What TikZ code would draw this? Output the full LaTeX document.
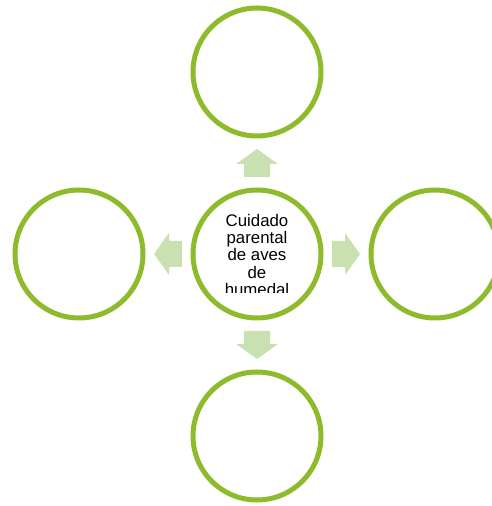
\documentclass[tikz,border=0pt]{standalone}
\usepackage{fontspec}
\setmainfont{Liberation Sans}
\usetikzlibrary{calc}
\definecolor{ringgreen}{RGB}{141,187,44}
\definecolor{arrowgreen}{RGB}{201,225,176}

\begin{document}
\begin{tikzpicture}[x=1pt, y=1pt,
    ring/.style={circle, draw=ringgreen, line width=5pt, minimum size=128pt, inner sep=0pt},
    blockarrow/.pic={\fill[arrowgreen] (-14,-13) -- (-1,-13) -- (-1,-21) -- (14,0) -- (-1,21) -- (-1,13) -- (-14,13) -- cycle;}]
    \useasboundingbox (0, 0) rectangle (492, 506);

    %Nodes
    \node[ring] at (257, 252) (c) {};
    \node[ring] at (257, 434) (t) {};
    \node[ring] at (257, 70) (b) {};
    \node[ring] at (79, 252) (l) {};
    \node[ring] at (435, 252) (r) {};

    %Text
    \begin{scope}
        \clip (0, 213) rectangle (492, 506);
        \node[anchor=north, align=center, inner sep=0pt, font=\fontsize{16.8}{17.3}\selectfont] at (257, 292) (ctext) {Cuidado\\parental\\de aves\\de\\humedal};
    \end{scope}

    %Arrows
    \pic[rotate=90] at ($(c)!0.5!(t)$) {blockarrow};
    \pic[rotate=-90] at ($(c)!0.5!(b)$) {blockarrow};
    \pic[rotate=180] at ($(c)!0.5!(l)$) {blockarrow};
    \pic at ($(c)!0.5!(r)$) {blockarrow};

\end{tikzpicture}
\end{document}
